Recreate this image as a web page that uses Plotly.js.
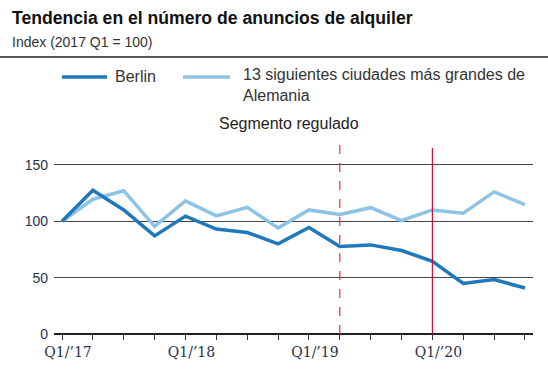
<!DOCTYPE html>
<html>
<head>
<meta charset="utf-8">
<script src="https://cdn.plot.ly/plotly-3.0.1.min.js"></script>
<style>html,body{margin:0;padding:0;background:#fff;}#chart{width:548px;height:373px;}</style>
</head>
<body>
<div id="chart"></div>
<script>
const quarters = ["Q1/’17","Q2/’17","Q3/’17","Q4/’17","Q1/’18","Q2/’18","Q3/’18","Q4/’18",
                  "Q1/’19","Q2/’19","Q3/’19","Q4/’19","Q1/’20","Q2/’20","Q3/’20","Q4/’20"];
const tickLabels = ["Q1/’17","","","","Q1/’18","","","","Q1/’19","","","","Q1/’20","","",""];
const berlin = [100,127.5,110,87,104.5,93,90,80,94.5,77.5,79,74,64.5,44.8,48.3,40.8];
const cities = [100,119.5,127,95.5,118,104.7,112.3,94,110,106,112,100.6,110,107,126,114.7];
const seriesNames = ["Berlin","13 siguientes ciudades más grandes de<br>Alemania"];
const colors = ["#1f78bc","#8dc3e6"];
const xIdx = quarters.map((q,i)=>i);
const regulatedStart = 9;   // Q2/'19
const regulatedMark = 12;   // Q1/'20

const font = "Liberation Sans, Arial, sans-serif";
const traces = [
  {x:xIdx, y:berlin, name:seriesNames[0], type:"scatter", mode:"lines",
   line:{color:colors[0], width:3.5}, hoverinfo:"skip"},
  {x:xIdx, y:cities, name:seriesNames[1], type:"scatter", mode:"lines",
   line:{color:colors[1], width:3.5}, hoverinfo:"skip"}
];
traces.reverse();

const layout = {
  width:548, height:373,
  margin:{l:54, r:15, t:140, b:39},
  paper_bgcolor:"#fff", plot_bgcolor:"#fff",
  showlegend:false,
  font:{family:font, size:13, color:"#333"},
  xaxis:{range:[-0.26,15.26], tickmode:"array", tickvals:xIdx, ticktext:tickLabels,
         ticks:"outside", ticklen:5, tickcolor:"#333", tickwidth:1,
         showgrid:false, zeroline:false, showline:false, ticklabelstandoff:0, ticklabelshift:6,
         tickfont:{family:"DejaVu Serif, serif", size:14, color:"#2a3048"}},
  yaxis:{range:[0,172], tickvals:[0,50,100,150], ticks:"", showgrid:true,
         gridcolor:"#444", gridwidth:1, zeroline:true, zerolinecolor:"#222", zerolinewidth:1.2,
         showline:false, ticklabelstandoff:5,
         tickfont:{family:font, size:14, color:"#2a3048"}},
  shapes:[
    {type:"line", xref:"paper", yref:"paper", x0:-54/479, x1:(548-54)/479, y0:1+(140-57)/194, y1:1+(140-57)/194,
     line:{color:"#555", width:2}},
    {type:"line", xref:"x", yref:"paper", x0:regulatedStart, x1:regulatedStart, y0:0, y1:1,
     line:{color:"#d9363e", width:1.2, dash:"dash"}},
    {type:"line", xref:"x", yref:"paper", x0:regulatedMark, x1:regulatedMark, y0:0, y1:(334-148)/194,
     line:{color:"#c8102e", width:1.2}},
    {type:"line", xref:"paper", yref:"paper", x0:(62-54)/479, x1:(107-54)/479, y0:1+(140-77)/194, y1:1+(140-77)/194,
     line:{color:colors[0], width:3.5}},
    {type:"line", xref:"paper", yref:"paper", x0:(183-54)/479, x1:(230-54)/479, y0:1+(140-77)/194, y1:1+(140-77)/194,
     line:{color:colors[1], width:3.5}}
  ],
  annotations:[
    {text:"<b>Tendencia en el número de anuncios de alquiler</b>", xref:"paper", yref:"paper",
     x:(10-54)/479, y:1+(140-18)/194, xanchor:"left", yanchor:"middle", showarrow:false,
     font:{family:font, size:17.6, color:"#111"}},
    {text:"Index (2017 Q1 = 100)", xref:"paper", yref:"paper",
     x:(10-54)/479, y:1+(140-42)/194, xanchor:"left", yanchor:"middle", showarrow:false,
     font:{family:font, size:14, color:"#333"}},
    {text:seriesNames[0], xref:"paper", yref:"paper",
     x:(113-54)/479, y:1+(140-76)/194, xanchor:"left", yanchor:"middle", showarrow:false,
     font:{family:font, size:16, color:"#333"}},
    {text:seriesNames[1], xref:"paper", yref:"paper", align:"left",
     x:(241-54)/479, y:1+(140-64)/194, xanchor:"left", yanchor:"top", showarrow:false,
     font:{family:font, size:16, color:"#333"}},
    {text:"Segmento regulado", xref:"paper", yref:"paper",
     x:(289-54)/479, y:1+(140-123)/194, xanchor:"center", yanchor:"middle", showarrow:false,
     font:{family:font, size:16, color:"#222"}}
  ]
};
Plotly.newPlot("chart", traces, layout, {staticPlot:true, displayModeBar:false});
</script>
</body>
</html>
